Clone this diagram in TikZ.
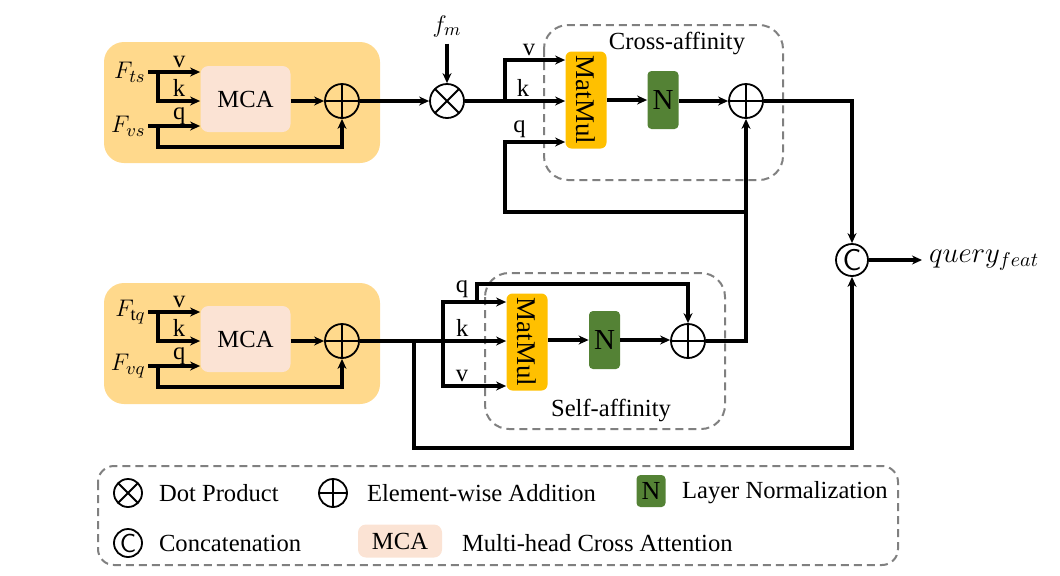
\documentclass[tikz,border=0pt]{standalone}
\usepackage{fontspec}
\setmainfont{Liberation Serif}
\usetikzlibrary{positioning,calc,arrows.meta}
\tikzset{>={Stealth[length=5pt,width=4.5pt]}}
\definecolor{panel}{RGB}{255,217,140}
\definecolor{mcafill}{RGB}{251,227,212}
\definecolor{matfill}{RGB}{255,192,0}
\definecolor{normfill}{RGB}{84,130,53}
\tikzset{
  mcabox/.style={fill=mcafill,rounded corners=4pt,minimum width=45pt,minimum height=33pt,inner sep=0pt},
  matbox/.style={fill=matfill,rounded corners=3pt,minimum width=20.5pt,minimum height=48.5pt,inner sep=0pt,
      font=\fontsize{13.5}{14}\selectfont},
  normbox/.style={fill=normfill,rounded corners=2pt,minimum width=15.5pt,minimum height=29pt,inner sep=0pt,
      font=\fontsize{14.5}{15}\selectfont},
  opcirc/.style={circle,draw,line width=0.9pt,minimum size=17pt,inner sep=0pt},
  addop/.style={opcirc,path picture={\draw[line width=0.9pt] (path picture bounding box.north)--(path picture bounding box.south)
      (path picture bounding box.west)--(path picture bounding box.east);}},
  dotop/.style={opcirc,path picture={\draw[line width=0.9pt] (path picture bounding box.north west)--(path picture bounding box.south east)
      (path picture bounding box.north east)--(path picture bounding box.south west);}},
  catop/.style={opcirc,minimum size=16pt,font=\sffamily\fontsize{15}{15}\selectfont},
  flow/.style={line width=1.6pt},
  groupbox/.style={draw=gray,line width=1pt,dash pattern=on 4pt off 2.5pt,rounded corners=12pt},
  lbl/.style={inner sep=1.5pt},
}

\begin{document}
\begin{tikzpicture}[x=0.5pt,y=-0.5pt,font=\fontsize{12.3}{14}\selectfont]
\useasboundingbox (0,0) rectangle (1060,575);
% input panels
\fill[panel,rounded corners=10pt] (104,42) rectangle (380,163);
\fill[panel,rounded corners=10pt] (104,283) rectangle (380,404);
% dashed groups
\draw[groupbox] (544,25) rectangle (783,180);
\node (crosslbl) at (677,43) {Cross-affinity};
\draw[groupbox] (485,273) rectangle (725,429);
\node (selflbl) at (611,410) {Self-affinity};

%% top branch
\node[mcabox] (mcaA) at (245.5,99) {MCA};
\node[addop] (addA) at (342,101) {};
\coordinate (tsin) at (148,72);
\coordinate (tsfork) at (158,72);
\coordinate (vsin) at (148,126);
\coordinate (vsfork) at (158,126);
\node[anchor=east,inner sep=1pt,font=\fontsize{13}{14}\selectfont] (fts) at (tsin) {$F_{ts}$};
\node[anchor=east,inner sep=1pt,font=\fontsize{13}{14}\selectfont] (fvs) at (vsin) {$F_{vs}$};
\draw[flow,->] (tsin) -- (tsin -| mcaA.west) node[lbl,pos=0.6,above] {v};
\draw[flow,->] (tsfork) |- ($(mcaA.west)+(0,2)$) node[lbl,pos=0.75,above] {k};
\draw[flow,->] (vsin) -- (vsin -| mcaA.west) node[inner sep=0pt,pos=0.6,above] {q};
\draw[flow,->] (vsfork) -- ++(0,21) -| (addA.south);
\draw[flow,->] (mcaA.east |- addA) -- (addA);

\node[dotop] (dotA) at (447,101) {};
\node[font=\fontsize{13}{14}\selectfont] (fm) at (447,26) {$f_m$};
\draw[flow,->] (fm) -- (dotA);
\draw[flow,->] (addA) -- (dotA);

\node[matbox] (matA) at (586,100) {\rotatebox{-90}{MatMul}};
\node[normbox] (normA) at (663,100) {N};
\node[addop] (addB) at (746,101) {};
\coordinate (forkA) at (505,101);
\draw[flow,->] (dotA) -- (dotA -| matA.west) node[lbl,pos=0.58,above] {k};
\draw[flow,->] (forkA) |- ($(matA.west)+(0,-40)$) node[lbl,pos=0.7,above] {v};
\draw[flow,->] (matA.east |- normA) -- (normA);
\draw[flow,->] (normA.east |- addB) -- (addB);

%% bottom branch
\node[mcabox] (mcaB) at (245.5,339) {MCA};
\node[addop] (addC) at (342,341) {};
\coordinate (tqin) at (148,312);
\coordinate (tqfork) at (158,312);
\coordinate (vqin) at (148,366);
\coordinate (vqfork) at (158,366);
\node[anchor=east,inner sep=1pt,font=\fontsize{13}{14}\selectfont] (ftq) at (tqin) {$F_{\mathrm{t}q}$};
\node[anchor=east,inner sep=1pt,font=\fontsize{13}{14}\selectfont] (fvq) at (vqin) {$F_{vq}$};
\draw[flow,->] (tqin) -- (tqin -| mcaB.west) node[lbl,pos=0.6,above] {v};
\draw[flow,->] (tqfork) |- ($(mcaB.west)+(0,2)$) node[lbl,pos=0.75,above] {k};
\draw[flow,->] (vqin) -- (vqin -| mcaB.west) node[inner sep=0pt,pos=0.6,above] {q};
\draw[flow,->] (vqfork) -- ++(0,21) -| (addC.south);
\draw[flow,->] (mcaB.east |- addC) -- (addC);

\node[matbox] (matC) at (527,342) {\rotatebox{-90}{MatMul}};
\node[normbox] (normC) at (604.5,340) {N};
\node[addop] (addD) at (688,341) {};
\coordinate (forkC) at (443,341);
\coordinate (qsplit) at (477,302);
\coordinate (skipC) at (414,341);
\draw[flow,->] (addC) -- (addC -| matC.west) node[lbl,pos=0.7,above] {k};
\draw[flow,->] (forkC) |- ($(matC.west)+(0,-40)$) node[lbl,pos=0.65,above] {q};
\draw[flow,->] (forkC) |- ($(matC.west)+(0,44)$) node[lbl,pos=0.65,above] {v};
\draw[flow,->] (qsplit) -- ++(0,-18) -| (addD.north);
\draw[flow,->] (matC.east |- normC) -- (normC);
\draw[flow,->] (normC) -- (normC -| addD.west);

%% merge into cross-affinity
\coordinate (fbA) at (746,212);
\draw[flow,->] (addD) -| (addB.south);
\draw[flow,->] (fbA) -- ++(-241,0) |- ($(matA.west)+(0,42)$) node[lbl,pos=0.62,above] {q};

%% concatenation
\node[catop] (catA) at (852,260) {C};
\node[anchor=west,font=\fontsize{14}{15}\selectfont] (qfeat) at (922,260) {$query_{feat}$};
\draw[flow,->] (addB) -| (catA.north);
\draw[flow,->] (skipC) -- ++(0,107) -| (catA.south);
\draw[flow,->] (catA) -- (qfeat);

%% legend
\draw[groupbox,rounded corners=8pt] (98,466) rectangle (898,565);
\node[dotop,minimum size=14pt] (lgdot) at (128,493) {};
\node[anchor=west] (lgdottxt) at (152,493) {Dot Product};
\node[addop,minimum size=14pt] (lgadd) at (333,493) {};
\node[anchor=west] (lgaddtxt) at (360,493) {Element-wise Addition};
\node[normbox,minimum width=14.5pt,minimum height=16pt,font=\fontsize{13}{14}\selectfont] (lgnorm) at (651,491) {N};
\node[anchor=west] (lgnormtxt) at (675,493) {Layer Normalization};
\node[catop,minimum size=14pt,font=\sffamily\fontsize{13}{14}\selectfont] (lgcat) at (128,543) {C};
\node[anchor=west] (lgcattxt) at (152,543) {Concatenation};
\node[mcabox,minimum width=42pt,minimum height=16.5pt] (lgmca) at (400,541) {MCA};
\node[anchor=west] (lgmcatxt) at (455,543) {Multi-head Cross Attention};
\end{tikzpicture}
\end{document}
